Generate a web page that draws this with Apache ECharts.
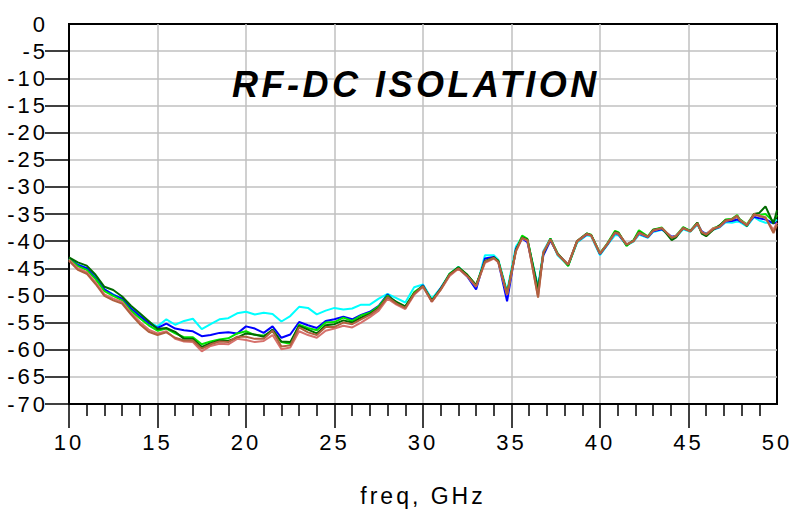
<!DOCTYPE html>
<html><head><meta charset="utf-8">
<script src="https://cdn.jsdelivr.net/npm/echarts@6/dist/echarts.min.js"></script>
<style>html,body{margin:0;padding:0;background:#fff}#c{width:794px;height:512px}#c text{letter-spacing:3px}#c text[style*="36px"]{letter-spacing:3.5px}</style>
</head><body><div id="c"></div><script>
const FREQ=[10,10.5,11,11.5,12,12.5,13,13.5,14,14.5,15,15.5,16,16.5,17,17.5,18,18.5,19,19.5,20,20.5,21,21.5,22,22.5,23,23.5,24,24.5,25,25.5,26,26.5,27,27.5,28,28.5,29,29.5,30,30.5,31,31.5,32,32.5,33,33.5,34,34.25,34.75,35.25,35.6,35.9,36.5,36.8,37.2,37.6,38.2,38.7,39.25,39.5,40,40.4,40.85,41.05,41.5,41.9,42.2,42.7,43,43.5,44.05,44.3,44.7,45.1,45.5,45.75,46,46.4,46.75,47.1,47.45,47.75,47.9,48.3,48.7,49,49.35,49.8,50];
const CYAN=[-43.2,-44.3,-45.0,-46.5,-48.9,-49.8,-50.6,-52.2,-53.6,-54.9,-55.7,-54.4,-55.4,-54.7,-54.3,-56.2,-55.3,-54.4,-54.2,-53.3,-53.0,-53.5,-53.2,-53.4,-54.8,-53.8,-52.1,-52.3,-53.5,-52.8,-52.3,-52.6,-52.4,-51.7,-51.7,-50.6,
-49.7,-50.5,-51.3,-48.5,-48.0,-50.6,-48.6,-46.0,-44.7,-46.4,-48.7,-42.6,-42.6,-43.4,-49.2,-41.0,-39.3,-39.9,-48.3,-41.8,-39.5,-42.6,-44.5,-40.3,-38.9,-39.1,-42.6,-40.8,-38.9,-38.9,-40.8,-40.1,-38.8,-39.4,-38.3,-37.9,-39.3,-39.2,-37.8,-38.3,-37.0,-38.3,-38.6,-37.9,-37.5,-36.5,-36.6,-36.4,-36.5,-37.3,-35.6,-36.2,-36.6,-36.6,-36.0];
const BLUE=[-43.2,-44.4,-45.0,-46.8,-48.9,-49.9,-50.6,-52.4,-53.8,-55.1,-56.0,-55.2,-56.1,-56.4,-56.6,-57.5,-57.3,-56.9,-56.8,-57.0,-55.7,-56.1,-56.9,-55.7,-57.8,-57.2,-54.9,-55.5,-56.0,-54.7,-54.4,-53.9,-54.4,-53.6,-53.0,-51.9,
-49.8,-51.4,-52.3,-49.6,-48.1,-51.1,-48.7,-46.3,-44.9,-46.5,-48.9,-43.2,-42.9,-43.7,-51.1,-41.4,-39.5,-40.2,-48.8,-42.6,-39.9,-42.3,-44.4,-40.1,-38.8,-38.9,-42.4,-40.7,-38.5,-38.8,-40.7,-39.9,-38.6,-39.3,-38.2,-37.8,-39.2,-39.0,-37.7,-38.1,-36.8,-38.2,-38.7,-37.8,-37.4,-36.4,-36.3,-36.0,-36.3,-37.0,-35.5,-35.8,-36.0,-36.7,-36.6];
const LIME=[-43.3,-44.6,-45.3,-47.0,-49.2,-50.1,-50.9,-52.8,-54.2,-55.5,-56.5,-56.1,-57.0,-57.7,-57.7,-59.0,-58.5,-58.1,-57.9,-57.0,-56.6,-57.3,-57.4,-56.6,-58.6,-58.9,-55.4,-56.0,-56.4,-55.0,-54.9,-54.1,-54.7,-53.7,-53.2,-52.0,
-50.0,-51.3,-52.1,-49.4,-48.3,-51.0,-48.9,-46.0,-44.8,-46.2,-48.1,-43.7,-43.1,-43.6,-49.6,-41.7,-39.0,-39.6,-49.0,-42.2,-39.5,-42.2,-44.6,-40.1,-38.6,-38.8,-42.2,-40.5,-38.1,-38.4,-40.9,-39.8,-38.0,-39.1,-37.9,-37.5,-39.5,-39.0,-37.4,-38.1,-36.6,-38.5,-38.9,-37.6,-37.2,-36.0,-35.9,-35.2,-36.0,-36.9,-35.0,-35.2,-35.0,-36.4,-35.2];
const DKGREEN=[-43.0,-43.9,-44.5,-46.2,-48.4,-49.0,-50.2,-51.9,-53.3,-54.7,-56.2,-56.0,-56.7,-58.0,-58.0,-59.5,-58.8,-58.3,-58.4,-57.8,-57.0,-57.2,-57.6,-56.3,-58.5,-58.6,-55.6,-56.3,-57.0,-55.5,-55.3,-54.6,-55.0,-54.1,-53.4,-52.3,
-50.2,-51.2,-52.0,-49.6,-48.3,-50.9,-48.8,-46.1,-44.8,-46.2,-48.1,-43.7,-43.0,-43.6,-49.7,-41.7,-39.3,-39.7,-49.1,-42.2,-39.6,-42.3,-44.4,-40.0,-38.6,-38.9,-42.3,-40.6,-38.3,-38.5,-40.7,-39.9,-38.3,-39.2,-37.9,-37.6,-39.8,-39.3,-37.5,-38.2,-36.6,-38.6,-39.1,-37.9,-37.1,-36.1,-36.0,-35.5,-36.0,-37.2,-35.0,-34.8,-33.6,-36.8,-34.3];
const SALMON=[-43.4,-45.0,-45.7,-47.6,-49.8,-50.6,-51.2,-53.2,-54.9,-56.3,-57.0,-56.6,-58.0,-58.5,-58.6,-60.3,-59.3,-58.9,-59.0,-58.0,-58.2,-58.6,-58.4,-57.3,-59.9,-59.6,-56.6,-57.3,-57.8,-56.5,-56.1,-55.6,-55.9,-55.0,-54.0,-52.8,
-50.6,-51.7,-52.5,-49.9,-48.4,-51.2,-49.0,-46.4,-45.1,-46.5,-48.4,-44.0,-43.2,-43.9,-49.9,-41.9,-39.5,-39.9,-50.2,-42.0,-39.7,-42.4,-44.3,-40.1,-38.7,-39.0,-42.3,-40.6,-38.5,-38.7,-40.6,-40.0,-38.5,-39.2,-38.1,-37.6,-39.3,-39.0,-37.6,-38.2,-36.8,-38.3,-38.7,-37.6,-37.4,-36.3,-36.0,-35.5,-36.1,-37.0,-35.3,-35.2,-35.8,-37.9,-36.6];
const BROWN=[-43.6,-45.3,-46.0,-47.9,-50.1,-50.9,-51.5,-53.5,-55.3,-56.7,-57.3,-56.8,-57.8,-58.3,-58.3,-59.8,-59.0,-58.5,-58.6,-57.6,-57.6,-58.0,-58.0,-56.5,-59.4,-59.2,-55.9,-56.8,-57.3,-55.8,-55.8,-55.0,-55.3,-54.4,-53.6,-52.4,
-50.3,-51.5,-52.3,-49.7,-48.3,-51.1,-48.9,-46.2,-45.0,-46.4,-48.3,-43.8,-43.1,-43.8,-49.8,-41.8,-39.4,-39.8,-50.4,-42.1,-39.7,-42.4,-44.3,-40.0,-38.7,-38.9,-42.3,-40.6,-38.4,-38.6,-40.6,-40.0,-38.4,-39.2,-38.0,-37.6,-39.4,-39.1,-37.6,-38.2,-36.7,-38.4,-38.8,-37.8,-37.3,-36.2,-36.0,-35.3,-36.2,-37.1,-35.0,-35.4,-35.6,-38.5,-37.0];
const SERIES_NAMES=['cyan','blue','lime','darkgreen','salmon','brown'];
const SERIES_COLORS=['#00FFFF','#0000FF','#00E600','#006A00','#D6716C','#B0603F'];
const Y_TICKS=[-70,-65,-60,-55,-50,-45,-40,-35,-30,-25,-20,-15,-10,-5];
const X_MAJOR_TICKS=[10,15,20,25,30,35,40,45];
const X_MINOR_TICKS=[11,12,13,14,16,17,18,19,21,22,23,24,26,27,28,29,31,32,33,34,36,37,38,39,41,42,43,44,46,47,48,49];
const TITLE='RF-DC ISOLATION';
const X_NAME='freq, GHz';

const FONT='Liberation Sans';
const values=[CYAN,BLUE,LIME,DKGREEN,SALMON,BROWN];
const chart=echarts.init(document.getElementById('c'),null,{renderer:'svg'});
chart.setOption({
  animation:false,
  backgroundColor:'#fff',
  title:{text:TITLE,left:227,top:61,textStyle:{fontFamily:FONT,fontSize:36,fontWeight:'bold',fontStyle:'italic',color:'#000'}},
  grid:{left:69,right:17,top:24,bottom:108,show:true,borderColor:'#000',borderWidth:2,backgroundColor:'transparent'},
  xAxis:[{
    type:'value',position:'bottom',min:10,max:50,interval:5,
    axisLine:{show:true,onZero:false,lineStyle:{color:'#000',width:2}},
    axisTick:{show:true,length:24,inside:false,customValues:X_MAJOR_TICKS,lineStyle:{color:'#000',width:1.5}},
    axisLabel:{margin:27,fontSize:22,color:'#000',fontFamily:FONT},
    splitLine:{show:true,lineStyle:{color:'#C0C0C0',width:1.5}},
    name:X_NAME,nameLocation:'middle',nameGap:80,
    nameTextStyle:{fontSize:23,color:'#000',fontFamily:FONT}
  },{
    type:'value',position:'bottom',min:10,max:50,
    axisLine:{show:false,onZero:false},
    axisTick:{show:true,length:12,inside:false,customValues:X_MINOR_TICKS,lineStyle:{color:'#000',width:1.5}},
    axisLabel:{show:false},
    splitLine:{show:false}
  }],
  yAxis:{
    type:'value',min:-70,max:0,interval:5,
    axisLine:{show:true,onZero:false,lineStyle:{color:'#000',width:2}},
    axisTick:{show:true,length:24,inside:false,customValues:Y_TICKS,lineStyle:{color:'#000',width:1.5}},
    axisLabel:{margin:21,fontSize:22,color:'#000',fontFamily:FONT},
    splitLine:{show:true,lineStyle:{color:'#C0C0C0',width:1.5}}
  },
  series:values.map((v,k)=>({
    name:SERIES_NAMES[k],type:'line',xAxisIndex:0,symbol:'none',
    data:FREQ.map((f,i)=>[f,v[i]]),
    lineStyle:{color:SERIES_COLORS[k],width:2},itemStyle:{color:SERIES_COLORS[k]}
  }))
});
</script></body></html>
